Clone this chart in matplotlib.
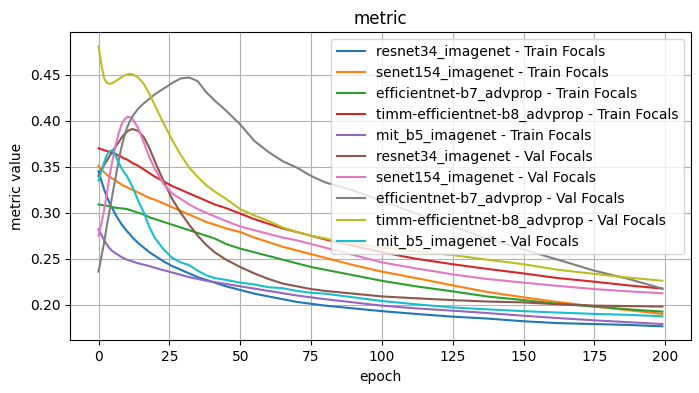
import matplotlib
matplotlib.use("Agg")
import matplotlib.pyplot as plt

epochs = [0, 1, 2, 3, 4, 5, 6, 7, 8, 9, 10, 11, 12, 14, 16, 18, 20, 23, 26, 29, 32, 35, 38, 41,
          45, 50, 55, 60, 65, 70, 75, 80, 90, 100, 112, 125, 137, 150, 162, 175, 187, 199]

resnet34_train = [0.345, 0.335, 0.325, 0.317, 0.310, 0.304, 0.298, 0.293, 0.288, 0.284, 0.280, 0.277,
                  0.273, 0.267, 0.262, 0.257, 0.253, 0.247, 0.242, 0.238, 0.234, 0.230, 0.227, 0.224,
                  0.220, 0.216, 0.212, 0.209, 0.206, 0.203, 0.201, 0.199, 0.196, 0.193, 0.190, 0.187,
                  0.185, 0.182, 0.180, 0.179, 0.178, 0.1765]
senet154_train = [0.351, 0.347, 0.344, 0.341, 0.339, 0.337, 0.335, 0.333, 0.331, 0.329, 0.328, 0.326,
                  0.325, 0.322, 0.319, 0.316, 0.314, 0.310, 0.306, 0.302, 0.298, 0.294, 0.290, 0.287,
                  0.283, 0.279, 0.273, 0.268, 0.263, 0.259, 0.255, 0.251, 0.243, 0.236, 0.229, 0.221,
                  0.214, 0.208, 0.203, 0.198, 0.194, 0.190]
effb7_train = [0.309, 0.3085, 0.308, 0.3075, 0.307, 0.306, 0.3055, 0.305, 0.3048, 0.3045, 0.304, 0.303,
               0.302, 0.300, 0.298, 0.295, 0.293, 0.290, 0.287, 0.284, 0.281, 0.278, 0.275, 0.272,
               0.266, 0.261, 0.257, 0.253, 0.249, 0.245, 0.241, 0.238, 0.232, 0.226, 0.220, 0.2145,
               0.209, 0.205, 0.201, 0.198, 0.195, 0.1925]
timm_b8_train = [0.370, 0.369, 0.368, 0.367, 0.366, 0.365, 0.364, 0.362, 0.361, 0.359, 0.358, 0.356,
                 0.354, 0.351, 0.347, 0.343, 0.339, 0.334, 0.329, 0.325, 0.321, 0.317, 0.313, 0.309,
                 0.305, 0.299, 0.293, 0.288, 0.283, 0.279, 0.275, 0.271, 0.264, 0.257, 0.250, 0.244,
                 0.239, 0.234, 0.229, 0.225, 0.221, 0.2175]
mitb5_train = [0.282, 0.276, 0.270, 0.265, 0.261, 0.258, 0.256, 0.254, 0.252, 0.2505, 0.249, 0.248,
               0.247, 0.245, 0.2435, 0.242, 0.240, 0.2375, 0.235, 0.2325, 0.230, 0.228, 0.226, 0.2245,
               0.2225, 0.220, 0.2175, 0.215, 0.2125, 0.210, 0.208, 0.206, 0.2025, 0.199, 0.196, 0.1935,
               0.191, 0.188, 0.1855, 0.183, 0.181, 0.179]
resnet34_val = [0.340, 0.346, 0.352, 0.357, 0.362, 0.367, 0.372, 0.376, 0.381, 0.385, 0.388, 0.390,
                0.391, 0.389, 0.382, 0.370, 0.355, 0.334, 0.315, 0.300, 0.287, 0.275, 0.265, 0.257,
                0.249, 0.241, 0.234, 0.228, 0.223, 0.220, 0.217, 0.215, 0.212, 0.209, 0.207, 0.205,
                0.2035, 0.2025, 0.2005, 0.199, 0.1985, 0.198]
senet154_val = [0.275, 0.288, 0.303, 0.322, 0.342, 0.358, 0.373, 0.385, 0.395, 0.401, 0.404, 0.404,
                0.402, 0.392, 0.376, 0.360, 0.347, 0.331, 0.321, 0.315, 0.309, 0.304, 0.300, 0.296,
                0.291, 0.285, 0.281, 0.277, 0.273, 0.270, 0.266, 0.262, 0.254, 0.246, 0.2395, 0.233,
                0.228, 0.224, 0.2205, 0.217, 0.2145, 0.2125]
effb7_val = [0.236, 0.252, 0.268, 0.287, 0.304, 0.321, 0.338, 0.355, 0.370, 0.382, 0.392, 0.399,
             0.405, 0.413, 0.419, 0.424, 0.429, 0.435, 0.441, 0.446, 0.447, 0.443, 0.431, 0.422,
             0.411, 0.396, 0.378, 0.366, 0.356, 0.349, 0.340, 0.333, 0.324, 0.313, 0.299, 0.285,
             0.272, 0.260, 0.249, 0.237, 0.228, 0.2175]
timm_b8_val = [0.481, 0.461, 0.446, 0.441, 0.440, 0.441, 0.443, 0.445, 0.447, 0.449, 0.450, 0.451,
               0.4505, 0.447, 0.440, 0.429, 0.416, 0.397, 0.379, 0.363, 0.349, 0.339, 0.330, 0.323,
               0.315, 0.304, 0.297, 0.291, 0.284, 0.279, 0.275, 0.272, 0.266, 0.262, 0.258, 0.254,
               0.249, 0.244, 0.238, 0.2335, 0.2295, 0.226]
mitb5_val = [0.335, 0.345, 0.355, 0.363, 0.367, 0.368, 0.362, 0.355, 0.349, 0.344, 0.340, 0.334,
             0.328, 0.313, 0.300, 0.284, 0.272, 0.260, 0.251, 0.246, 0.243, 0.237, 0.232, 0.229,
             0.227, 0.224, 0.222, 0.219, 0.218, 0.215, 0.213, 0.212, 0.208, 0.204, 0.2005, 0.197,
             0.195, 0.193, 0.1915, 0.190, 0.189, 0.1875]

series = [
    ("resnet34_imagenet - Train Focals", resnet34_train),
    ("senet154_imagenet - Train Focals", senet154_train),
    ("efficientnet-b7_advprop - Train Focals", effb7_train),
    ("timm-efficientnet-b8_advprop - Train Focals", timm_b8_train),
    ("mit_b5_imagenet - Train Focals", mitb5_train),
    ("resnet34_imagenet - Val Focals", resnet34_val),
    ("senet154_imagenet - Val Focals", senet154_val),
    ("efficientnet-b7_advprop - Val Focals", effb7_val),
    ("timm-efficientnet-b8_advprop - Val Focals", timm_b8_val),
    ("mit_b5_imagenet - Val Focals", mitb5_val),
]

fig, ax = plt.subplots(figsize=(6.99, 3.93), dpi=100)
fig.subplots_adjust(left=0.1006, right=0.988, top=0.918, bottom=0.134)

for label, vals in series:
    ax.plot(epochs, vals, label=label)

ax.set_title("metric")
ax.set_xlabel("epoch")
ax.set_ylabel("metric value")
ax.grid(True)
ax.legend(loc="upper right")

fig.savefig("out.png", dpi=100)
